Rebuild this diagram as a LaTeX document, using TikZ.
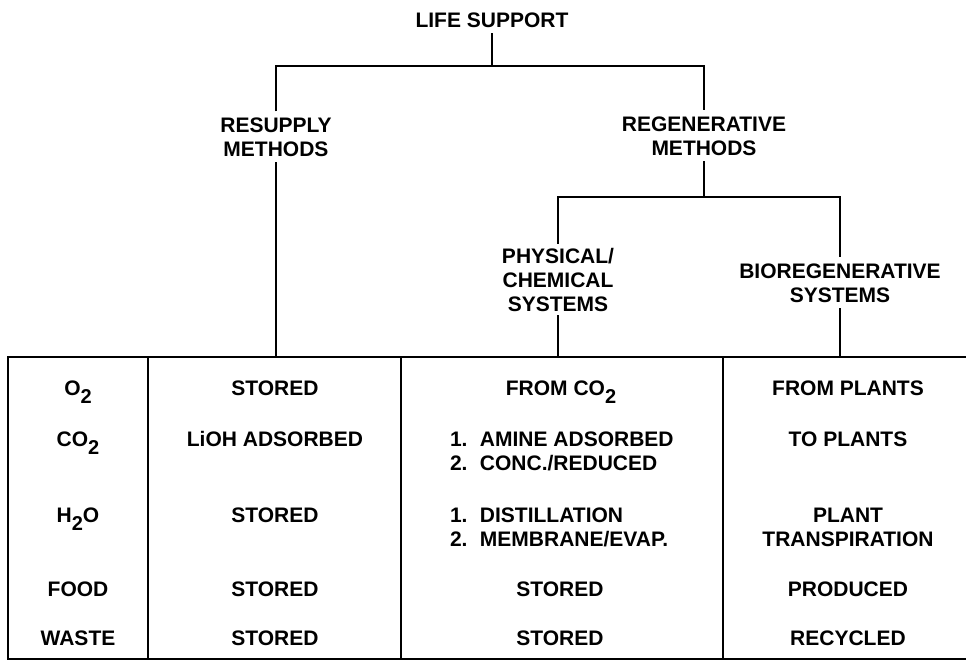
\documentclass[tikz,border=0pt]{standalone}
\usepackage{fontspec}
\setmainfont{Liberation Sans}
\newcommand\lsub[1]{\raisebox{-4pt}{\fontsize{10}{10}\selectfont #1}}
\newcommand\numitem[2]{\makebox[15pt][l]{#1}#2}
\begin{document}
\begin{tikzpicture}[x=0.5pt,y=-0.5pt,
  lbl/.style={font=\fontsize{10.5}{12}\selectfont\bfseries, inner sep=0pt, outer sep=0pt, align=center, anchor=base},
  tnode/.style={lbl, outer ysep=3pt},
  tree/.style={line width=1.4pt, line join=miter},
  grid/.style={line width=0.9pt}]
\useasboundingbox (0,0) rectangle (966,661);

% tree labels (base = baseline of last line)
\node[tnode] (ls) at (492,27) {LIFE SUPPORT};
\node[tnode] (res) at (276,156) {RESUPPLY\\METHODS};
\node[tnode] (reg) at (704,155) {REGENERATIVE\\METHODS};
\node[tnode, outer ysep=2pt] (phy) at (558,311) {PHYSICAL/\\CHEMICAL\\SYSTEMS};
\node[tnode] (bio) at (840,302) {BIOREGENERATIVE\\SYSTEMS};

\coordinate (j1) at (492,66);
\coordinate (j2) at (704,197);

% table frame
\coordinate (tl) at (8,357);
\coordinate (tr) at (966,357);
\coordinate (bl) at (8,659);
\coordinate (br) at (966,659);

% tree connectors
\draw[tree] (ls.south) -- (j1);
\draw[tree] (res.north) |- (j1) -| (reg.north);
\draw[tree] (reg.south) -- (j2);
\draw[tree] (phy.north) |- (j2) -| (bio.north);
\draw[tree] (res.south) -- (res.south |- tl);
\draw[tree] (phy.south) -- (phy.south |- tl);
\draw[tree] (bio.south) -- (bio.south |- tl);

% table lines
\draw[grid] (tr) -- (tl) -- (bl) -- (br);
\draw[grid] (148,357) -- (148,659);
\draw[grid] (401,357) -- (401,659);
\draw[grid] (723,357) -- (723,659);

% column 1
\node[lbl] (c1r1) at (78,395) {O\lsub{2}};
\node[lbl] (c1r2) at (78,446) {CO\lsub{2}};
\node[lbl] (c1r3) at (78,522) {H\lsub{2}O};
\node[lbl] (c1r4) at (78,596) {FOOD};
\node[lbl] (c1r5) at (78,645) {WASTE};

% column 2
\node[lbl] (c2r1) at (275,395) {STORED};
\node[lbl] (c2r2) at (275,446) {LiOH ADSORBED};
\node[lbl] (c2r3) at (275,522) {STORED};
\node[lbl] (c2r4) at (275,596) {STORED};
\node[lbl] (c2r5) at (275,645) {STORED};

% column 3
\node[lbl] (c3r1) at (561,395) {FROM CO\lsub{2}};
\node[lbl, align=left, anchor=base west] (c3r2) at (450,470) {\numitem{1.}{AMINE ADSORBED}\\\numitem{2.}{CONC./REDUCED}};
\node[lbl, align=left, anchor=base west] (c3r3) at (450,546) {\numitem{1.}{DISTILLATION}\\\numitem{2.}{MEMBRANE/EVAP.}};
\node[lbl] (c3r4) at (560,596) {STORED};
\node[lbl] (c3r5) at (560,645) {STORED};

% column 4
\node[lbl] (c4r1) at (848,395) {FROM PLANTS};
\node[lbl] (c4r2) at (848,446) {TO PLANTS};
\node[lbl] (c4r3) at (848,546) {PLANT\\TRANSPIRATION};
\node[lbl] (c4r4) at (848,596) {PRODUCED};
\node[lbl] (c4r5) at (848,645) {RECYCLED};
\end{tikzpicture}
\end{document}
